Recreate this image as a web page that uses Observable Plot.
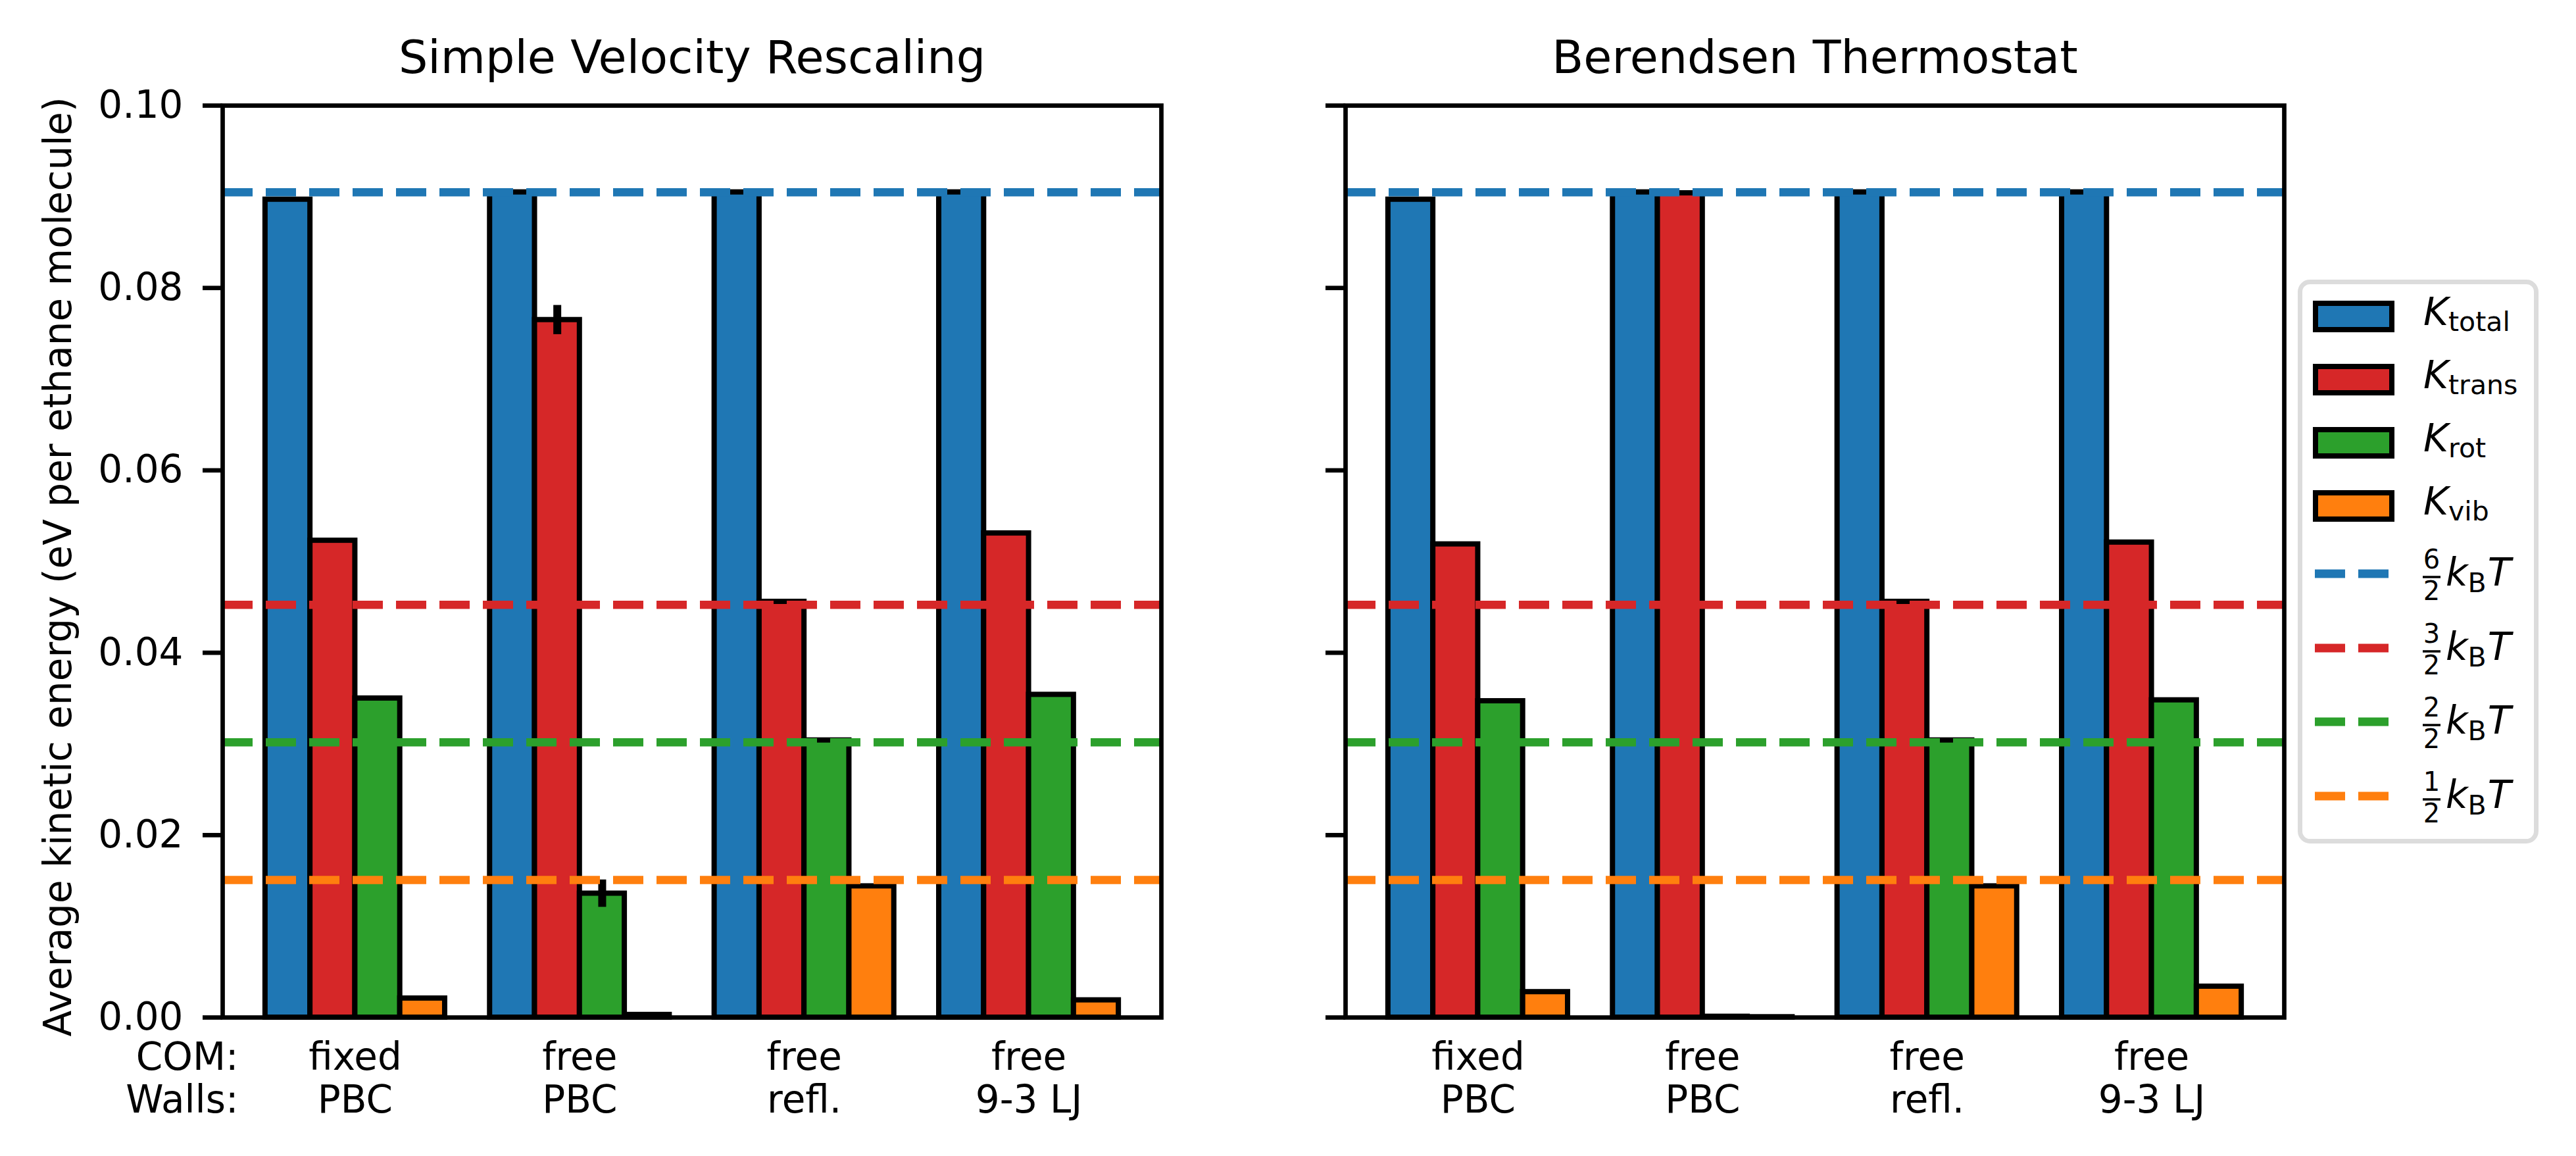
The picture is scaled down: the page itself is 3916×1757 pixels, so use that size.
<!DOCTYPE html>
<html>
<head>
<meta charset="utf-8">
<script src="https://cdn.jsdelivr.net/npm/d3@7"></script>
<script src="https://cdn.jsdelivr.net/npm/@observablehq/plot@0.6"></script>
<style>
  html, body { margin: 0; padding: 0; background: #ffffff; }
  #wrap { position: relative; width: 3916px; height: 1757px; background: #ffffff; font-family: "DejaVu Sans", sans-serif; }
  #wrap > svg, #wrap > figure { position: absolute; top: 0; margin: 0; }
</style>
</head>
<body>
<div id="wrap"></div>
<script>
// ---------------- data ----------------
const comLabels   = ["fixed", "free", "free", "free"];
const wallLabels  = ["PBC", "PBC", "refl.", "9-3 LJ"];
const seriesNames = ["K_total", "K_trans", "K_rot", "K_vib"];
const seriesColors = ["#1f77b4", "#d62728", "#2ca02c", "#ff7f0e"];
const yTicks = [0.00, 0.02, 0.04, 0.06, 0.08, 0.10];
const yLabel = "Average kinetic energy (eV per ethane molecule)";
const titles = ["Simple Velocity Rescaling", "Berendsen Thermostat"];

// Simple velocity rescaling
const svrTotal = [0.0897, 0.0905, 0.0905, 0.0905];
const svrTrans = [0.0523, 0.0765, 0.0456, 0.0531];
const svrRot   = [0.0350, 0.0136, 0.0304, 0.0354];
const svrVib   = [0.0021, 0.0003, 0.0144, 0.0019];
const svrTotalErr = [0.0001, 0.0001, 0.0001, 0.0001];
const svrTransErr = [0.0001, 0.0016, 0.0001, 0.0001];
const svrRotErr   = [0.0001, 0.0015, 0.0001, 0.0001];
const svrVibErr   = [0.0000, 0.0000, 0.0001, 0.0000];

// Berendsen thermostat
const berTotal = [0.0897, 0.0905, 0.0905, 0.0905];
const berTrans = [0.0519, 0.0904, 0.0456, 0.0521];
const berRot   = [0.0347, 0.0001, 0.0304, 0.0348];
const berVib   = [0.0028, 0.00005, 0.0144, 0.0034];
const berTotalErr = [0.0001, 0.0001, 0.0001, 0.0001];
const berTransErr = [0.0001, 0.0001, 0.0001, 0.0001];
const berRotErr   = [0.0001, 0.0000, 0.0001, 0.0001];
const berVibErr   = [0.0000, 0.0000, 0.0001, 0.0000];

// reference levels: 6/2, 3/2, 2/2, 1/2 k_B T
const refLevels = [0.0905, 0.04525, 0.03017, 0.01508];

// ---------------- build ----------------
const offsets = [-0.3, -0.1, 0.1, 0.3];
const barW = 0.2;

function rowsFor(vals, errs) {
  const out = [];
  vals.forEach((arr, si) => arr.forEach((v, gi) => {
    out.push({series: seriesNames[si], gi, xc: gi + offsets[si], v, e: errs[si][gi]});
  }));
  return out;
}
const svrRows = rowsFor([svrTotal, svrTrans, svrRot, svrVib], [svrTotalErr, svrTransErr, svrRotErr, svrVibErr]);
const berRows = rowsFor([berTotal, berTrans, berRot, berVib], [berTotalErr, berTransErr, berRotErr, berVibErr]);
const refRows = refLevels.map((y, i) => ({y, series: seriesNames[i]}));
const groups = comLabels.map((c, i) => ({i, text: c + "\n" + wallLabels[i]}));

function panel(rows, title, withLabels, width, mL, mR) {
  const marks = [
    Plot.rectY(rows, {x1: d => d.xc - barW / 2, x2: d => d.xc + barW / 2, y1: 0, y2: "v",
      fill: "series", stroke: "black", strokeWidth: 8}),
    Plot.ruleX(rows, {x: "xc", y1: d => d.v - d.e, y2: d => d.v + d.e, stroke: "black", strokeWidth: 12}),
    Plot.ruleY(refRows, {y: "y", stroke: "series", strokeWidth: 12.5, strokeDasharray: "46,20"}),
    Plot.frame({stroke: "black", strokeWidth: 6.7}),
    Plot.axisY({ticks: yTicks, tickSize: 30, tickPadding: 30, strokeWidth: 6.7, fontSize: 58, label: null,
      tickFormat: withLabels ? d3.format(".2f") : () => ""}),
    Plot.text([title], {text: d => d, frameAnchor: "top", lineAnchor: "bottom", dy: -50, fontSize: 70}),
    Plot.text(groups, {x: "i", text: "text", frameAnchor: "bottom", lineAnchor: "top", dy: 33,
      lineHeight: 1.12, fontSize: 58})
  ];
  if (withLabels) {
    marks.push(Plot.text(["COM:\nWalls:"], {text: d => d, frameAnchor: "bottom-left", textAnchor: "end",
      lineAnchor: "top", dx: 24, dy: 33, lineHeight: 1.12, fontSize: 58}));
    marks.push(Plot.text([yLabel], {text: d => d, frameAnchor: "left", rotate: -90, textAnchor: "middle",
      lineAnchor: "bottom", dx: -231, dy: 8, fontSize: 58}));
  }
  return Plot.plot({
    width, height: 1757,
    marginLeft: mL, marginRight: mR, marginTop: 160, marginBottom: 211,
    style: {fontFamily: "DejaVu Sans", fontSize: "58px", background: "transparent", color: "black", overflow: "visible"},
    x: {domain: [-0.59, 3.59], axis: null},
    y: {domain: [0, 0.1], axis: null},
    color: {domain: seriesNames, range: seriesColors},
    marks
  });
}

const wrap = document.getElementById("wrap");
const p1 = panel(svrRows, titles[0], true, 1905, 338, 140);
p1.style.left = "0px";
wrap.appendChild(p1);
const p2 = panel(berRows, titles[1], false, 1585, 140, 18);
p2.style.left = "1905px";
wrap.appendChild(p2);

// ---------------- legend ----------------
const legendSubs = ["total", "trans", "rot", "vib"];
const legendNums = ["6", "3", "2", "1"];
const leg = d3.select(wrap).append("svg")
  .attr("width", 436).attr("height", 920)
  .style("position", "absolute").style("left", "3480px").style("top", "400px")
  .style("font-family", "DejaVu Sans");
leg.append("rect").attr("x", 16.5).attr("y", 28.5).attr("width", 359).attr("height", 850)
  .attr("rx", 15).attr("fill", "white").attr("stroke", "#dcdcdc").attr("stroke-width", 7);
const patchY = [81, 177, 273, 369];
seriesNames.forEach((s, i) => {
  const cy = patchY[i];
  leg.append("rect").attr("x", 40).attr("y", cy - 20).attr("width", 116).attr("height", 40)
    .attr("fill", seriesColors[i]).attr("stroke", "black").attr("stroke-width", 8);
  const t = leg.append("text").attr("x", 204).attr("y", cy + 13).attr("font-size", 58);
  t.append("tspan").attr("font-style", "italic").text("K");
  t.append("tspan").attr("font-size", 41).attr("dy", 9).text(legendSubs[i]);
});
const lineY = [472, 585, 697, 810];
seriesNames.forEach((s, i) => {
  const ly = lineY[i];
  leg.append("line").attr("x1", 39).attr("x2", 153).attr("y1", ly).attr("y2", ly)
    .attr("stroke", seriesColors[i]).attr("stroke-width", 13).attr("stroke-dasharray", "46,20");
  const bar = ly + 5;
  leg.append("line").attr("x1", 203).attr("x2", 230).attr("y1", bar).attr("y2", bar)
    .attr("stroke", "black").attr("stroke-width", 3.5);
  leg.append("text").attr("x", 216.5).attr("y", bar - 13).attr("font-size", 40).attr("text-anchor", "middle").text(legendNums[i]);
  leg.append("text").attr("x", 216.5).attr("y", bar + 35).attr("font-size", 40).attr("text-anchor", "middle").text("2");
  const t = leg.append("text").attr("x", 238).attr("y", bar + 13).attr("font-size", 58);
  t.append("tspan").attr("font-style", "italic").text("k");
  t.append("tspan").attr("font-size", 41).attr("dy", 10).text("B");
  t.append("tspan").attr("font-style", "italic").attr("dy", -10).attr("dx", 2).text("T");
});
</script>
</body>
</html>
